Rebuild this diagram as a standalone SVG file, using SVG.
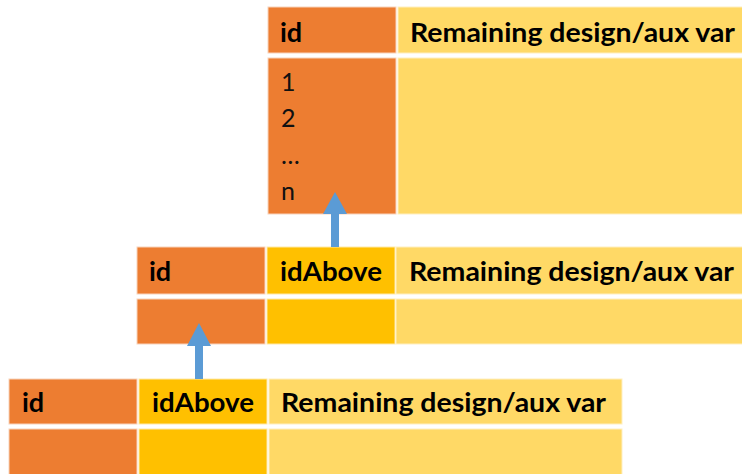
<svg xmlns="http://www.w3.org/2000/svg" width="742" height="474" viewBox="0 0 742 474">
<style>
.id{fill:#ED7D31;stroke:#F8D3BC;stroke-width:1}
.ab{fill:#FFC000;stroke:#FFE9A8;stroke-width:1}
.rm{fill:#FFD966;stroke:#FFEFC0;stroke-width:1}
.h{font-family:Lato,"Liberation Sans",sans-serif;font-weight:bold;font-size:27px;fill:#000}
.n{font-family:Lato,"Liberation Sans",sans-serif;font-size:25px;fill:#111}
.arr{fill:#5B9BD5}
</style>
<rect width="742" height="474" fill="#fff"/>
<g id="table-top">
<rect class="id" x="268" y="7" width="128" height="46"/>
<rect class="rm" x="398" y="7" width="350" height="46"/>
<rect class="id" x="268" y="58" width="128" height="156"/>
<rect class="rm" x="398" y="58" width="350" height="156"/>
<text class="h" x="280" y="42">id</text>
<text class="h" x="410" y="42" textLength="325" lengthAdjust="spacingAndGlyphs">Remaining design/aux var</text>
<text class="n" x="281" y="91">1</text>
<text class="n" x="281" y="127">2</text>
<text class="n" x="281" y="164">…</text>
<text class="n" x="281" y="200">n</text>
</g>
<g id="table-middle">
<rect class="id" x="137" y="247" width="128" height="47"/>
<rect class="ab" x="267" y="247" width="128" height="47"/>
<rect class="rm" x="396" y="247" width="350" height="47"/>
<rect class="id" x="137" y="299" width="128" height="45"/>
<rect class="ab" x="267" y="299" width="128" height="45"/>
<rect class="rm" x="396" y="299" width="350" height="45"/>
<text class="h" x="149" y="281">id</text>
<text class="h" x="280" y="281" textLength="102" lengthAdjust="spacingAndGlyphs">idAbove</text>
<text class="h" x="409" y="281" textLength="325" lengthAdjust="spacingAndGlyphs">Remaining design/aux var</text>
</g>
<g id="table-bottom">
<rect class="id" x="9" y="379" width="128" height="45"/>
<rect class="ab" x="139" y="379" width="128" height="45"/>
<rect class="rm" x="269" y="379" width="353" height="45"/>
<rect class="id" x="9" y="429" width="128" height="50"/>
<rect class="ab" x="139" y="429" width="128" height="50"/>
<rect class="rm" x="269" y="429" width="353" height="50"/>
<text class="h" x="22" y="412">id</text>
<text class="h" x="152" y="412" textLength="102" lengthAdjust="spacingAndGlyphs">idAbove</text>
<text class="h" x="281" y="412" textLength="325" lengthAdjust="spacingAndGlyphs">Remaining design/aux var</text>
</g>
<g id="connectors">
<path class="arr" d="M331 247 V214 H323 L335 192 L347 214 H339 V247 Z"/>
<path class="arr" d="M195 379 V346 H187 L199 323 L211 346 H203 V379 Z"/>
</g>
</svg>
